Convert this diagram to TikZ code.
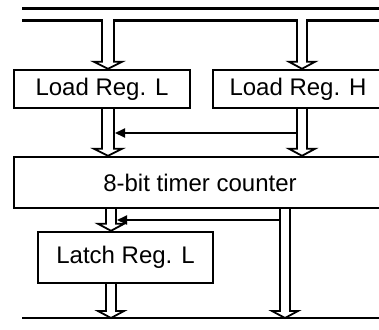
\documentclass[tikz,border=0pt]{standalone}
\usepackage{fontspec}
\setmainfont{Liberation Sans}
\usetikzlibrary{arrows.meta,calc}
\pgfdeclarelayer{background}
\pgfsetlayers{background,main}

% hollow bus arrow: centre x, half width, from, to
\newcommand{\fatarrow}[4]{%
  \begin{pgfonlayer}{background}
  \coordinate (tip) at (#1,0 |- #4);
  \filldraw[shaft] (#1-#2,0 |- #3) -- ($(tip)+(-#2,-7)$) -- ++(-8,0) -- (tip)
    -- ($(tip)+(#2+8,-7)$) -- ++(-8,0) -- (#1+#2,0 |- #3);
  \end{pgfonlayer}}

\begin{document}
\begin{tikzpicture}[x=1pt, y=-1pt,
  every node/.style={draw, line width=2.4pt, inner sep=0pt, font=\fontsize{24}{28}\selectfont},
  shaft/.style={line width=1.8pt, fill=white, line join=miter},
  bus/.style={line width=2.1pt, line cap=rect},
  feed/.style={line width=1.8pt, -{Triangle[length=10pt, width=9pt]}}]
  \useasboundingbox (0,0) rectangle (379,329);
  \clip (0,0) rectangle (379,329);

  \node[minimum width=176pt, minimum height=38pt] (loadL) at (102,89) {Load Reg. L};
  \node[minimum width=170pt, minimum height=38pt] (loadH) at (298,89) {Load Reg. H};
  \node[minimum width=372pt, minimum height=51pt] (counter) at (200,182.5) {8-bit timer counter};
  \node[minimum width=175pt, minimum height=51pt] (latchL) at (125.5,257.5) {Latch Reg. L};

  \coordinate (top) at (0,20.5);
  \coordinate (bot) at (0,318);

  % buses
  \draw[bus] (23,8.5) -- (379,8.5);
  \draw[bus] (23,20.5) -- (102,20.5) (114,20.5) -- (297,20.5) (307,20.5) -- (379,20.5);
  \draw[bus] (23,318) -- (379,318);

  \fatarrow{108}{6}{top}{loadL.north}
  \fatarrow{302}{5}{top}{loadH.north}
  \fatarrow{108}{6}{loadL.south}{counter.north}
  \fatarrow{302}{5}{loadH.south}{counter.north}
  \fatarrow{111}{5}{counter.south}{latchL.north}
  \fatarrow{285}{5}{counter.south}{bot}
  \fatarrow{111}{5}{latchL.south}{bot}

  \coordinate (fromH) at (297,133);
  \coordinate (toL) at (115,133);
  \coordinate (fromC) at (280,220);
  \coordinate (toLatch) at (117,220);
  \draw[feed] (fromH) -- (toL);
  \draw[feed] (fromC) -- (toLatch);
\end{tikzpicture}
\end{document}
